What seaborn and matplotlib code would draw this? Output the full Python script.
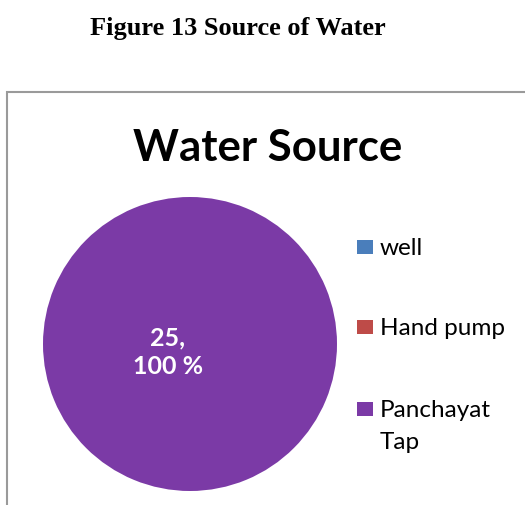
"""
Water source pie chart (Figure 13).
"""

import matplotlib
matplotlib.use("Agg")
import matplotlib.pyplot as plt
from matplotlib.patches import Rectangle
import seaborn as sns

# ============================================================
# DATA
# ============================================================

sources = ["well", "Hand pump", "Panchayat Tap"]
legend_labels = ["well", "Hand pump", "Panchayat\nTap"]
counts = [0, 0, 25]
colors = ["#4A7EBB", "#BE4B48", "#7B3AA6"]

total = sum(counts)

# ============================================================
# FIGURE
# ============================================================

sns.set_theme(style="white")
plt.rcParams["font.family"] = ["Lato", "DejaVu Sans"]
plt.rcParams["text.color"] = "black"

fig = plt.figure(figsize=(5.25, 5.06), dpi=100)
W, H = 525, 506

# caption above the chart box
fig.text(238 / W, 1 - 28 / H, "Figure 13 Source of Water",
         family="Liberation Serif", fontweight="bold", fontsize=19,
         ha="center", va="center")

# chart area frame (cut off at right and bottom like the source)
fig.patches.append(Rectangle((7 / W, -0.05), 1.1, (1 - 93 / H) + 0.05,
                             transform=fig.transFigure, fill=False,
                             edgecolor="#9a9a9a", linewidth=1.5))

fig.text(268 / W, 1 - 148 / H, "Water Source", fontweight="bold",
         fontsize=31.5, ha="center", va="center")

# pie axes
cx, cy, r = 190, 345, 147
ax = fig.add_axes([(cx - r) / W, 1 - (cy + r) / H, 2 * r / W, 2 * r / H])


def fmt(pct):
    if pct <= 0:
        return ""
    return f"{round(pct * total / 100)},\n{pct:.0f} %"


wedges, _, autotexts = ax.pie(
    counts,
    colors=colors,
    startangle=18,
    counterclock=False,
    autopct=fmt,
    pctdistance=0.16,
    wedgeprops={"linewidth": 0},
    textprops={"color": "white", "fontsize": 18, "fontweight": "bold"},
)
for t in autotexts:
    t.set_linespacing(1.3)
ax.set_xlim(-1, 1)
ax.set_ylim(-1, 1)
ax.set_aspect("equal")
ax.axis("off")

# legend, drawn entry by entry so the square sits on the first text line
legend_y = [248, 328, 410]
for label, color, y in zip(legend_labels, colors, legend_y):
    fig.patches.append(Rectangle((357 / W, 1 - (y + 7) / H), 16 / W, 14 / H,
                                 transform=fig.transFigure,
                                 facecolor=color, edgecolor="none"))
    fig.text(380 / W, 1 - (y - 10) / H, label, fontsize=17.5,
             ha="left", va="top", linespacing=1.65)

fig.savefig("out.png", dpi=100)
plt.close(fig)
